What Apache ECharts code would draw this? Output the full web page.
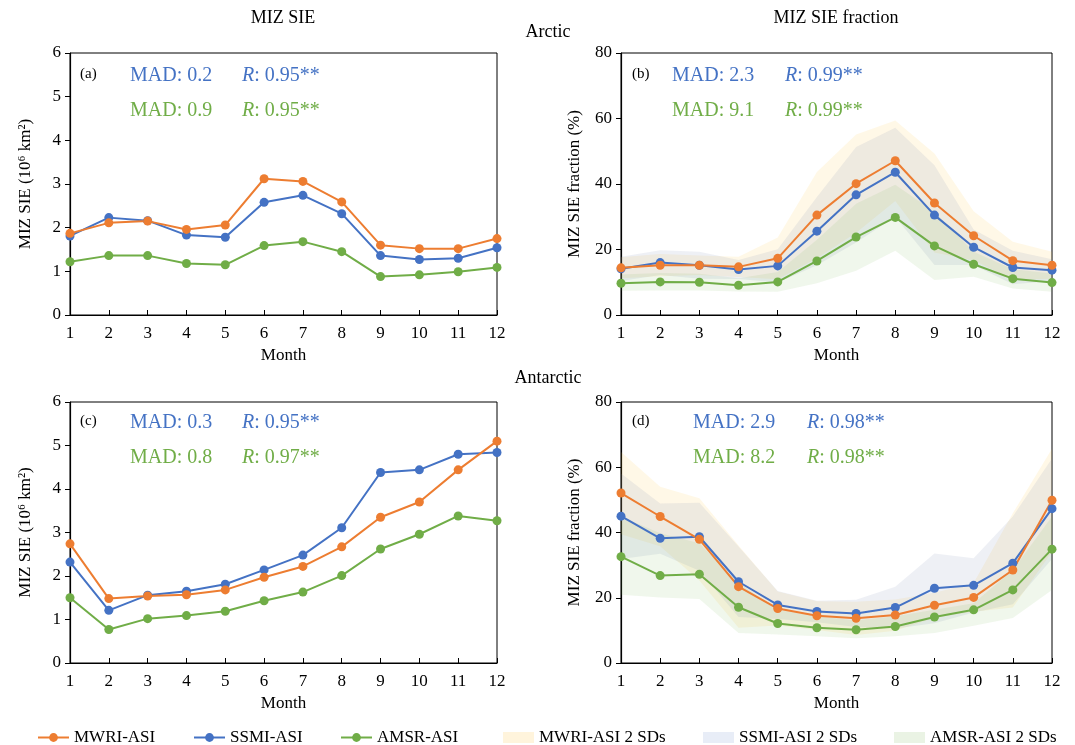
<!DOCTYPE html>
<html>
<head>
<meta charset="utf-8">
<script src="https://cdn.jsdelivr.net/npm/echarts@6/dist/echarts.min.js"></script>
<style>
  html, body { margin: 0; padding: 0; background: #fff; }
  #chart { width: 1075px; height: 745px; }
</style>
</head>
<body>
<div id="chart"></div>
<script>
const months = ['1', '2', '3', '4', '5', '6', '7', '8', '9', '10', '11', '12'];

// (a) Arctic MIZ SIE (10^6 km2)
const arcSieMwri = [1.87, 2.11, 2.15, 1.96, 2.06, 3.12, 3.06, 2.59, 1.60, 1.52, 1.52, 1.75];
const arcSieSsmi = [1.81, 2.23, 2.16, 1.83, 1.78, 2.58, 2.74, 2.32, 1.36, 1.27, 1.30, 1.54];
const arcSieAmsr = [1.22, 1.36, 1.36, 1.18, 1.15, 1.59, 1.68, 1.45, 0.88, 0.92, 0.99, 1.09];

// (b) Arctic MIZ SIE fraction (%)
const arcFracMwri = [14.4, 15.2, 15.2, 14.7, 17.3, 30.5, 40.1, 47.1, 34.2, 24.2, 16.6, 15.2];
const arcFracSsmi = [14.1, 16.0, 15.2, 13.9, 15.0, 25.6, 36.7, 43.6, 30.5, 20.7, 14.5, 13.7];
const arcFracAmsr = [9.7, 10.1, 10.0, 9.1, 10.1, 16.5, 23.8, 29.8, 21.1, 15.5, 11.1, 9.9];
const arcMwriLow = [11.2, 11.8, 12.2, 11.6, 10.9, 17.3, 25.1, 34.8, 19.1, 16.7, 10.8, 11.1];
const arcMwriUp = [17.6, 18.6, 18.2, 17.8, 23.7, 43.7, 55.1, 59.4, 49.3, 31.7, 22.4, 19.3];
const arcSsmiLow = [10.4, 12.2, 11.1, 11.0, 9.9, 15.2, 22.1, 30.0, 15.3, 15.3, 9.4, 10.4];
const arcSsmiUp = [17.8, 19.8, 19.3, 16.8, 20.1, 36.0, 51.3, 57.2, 45.7, 26.1, 19.6, 17.0];
const arcAmsrLow = [7.4, 7.5, 7.5, 7.2, 7.1, 9.7, 13.5, 19.6, 10.7, 11.7, 8.1, 7.1];
const arcAmsrUp = [12.4, 12.8, 12.6, 11.2, 13.1, 23.0, 34.0, 39.8, 31.5, 19.3, 14.0, 12.7];

// (c) Antarctic MIZ SIE (10^6 km2)
const antSieMwri = [2.74, 1.48, 1.54, 1.57, 1.68, 1.97, 2.22, 2.67, 3.35, 3.70, 4.44, 5.10];
const antSieSsmi = [2.32, 1.21, 1.56, 1.65, 1.81, 2.14, 2.48, 3.11, 4.38, 4.44, 4.80, 4.84];
const antSieAmsr = [1.50, 0.77, 1.02, 1.09, 1.19, 1.43, 1.63, 2.01, 2.62, 2.96, 3.38, 3.27];

// (d) Antarctic MIZ SIE fraction (%)
const antFracMwri = [52.1, 44.9, 37.9, 23.4, 16.7, 14.5, 13.7, 14.7, 17.7, 20.1, 28.5, 49.9];
const antFracSsmi = [45.0, 38.2, 38.7, 24.9, 17.8, 15.8, 15.2, 17.0, 22.9, 23.8, 30.6, 47.3];
const antFracAmsr = [32.6, 26.8, 27.2, 17.1, 12.1, 10.8, 10.2, 11.2, 14.1, 16.3, 22.4, 34.9];
const antMwriLow = [39.5, 35.8, 25.3, 10.8, 11.5, 10.1, 8.6, 9.9, 13.9, 15.7, 17.0, 34.1];
const antMwriUp = [64.7, 54.0, 50.5, 36.0, 21.9, 18.9, 18.8, 19.5, 21.5, 24.5, 45.9, 65.7];
const antSsmiLow = [31.9, 33.5, 28.3, 14.1, 13.5, 12.5, 11.0, 10.6, 12.2, 15.5, 18.0, 31.9];
const antSsmiUp = [58.1, 48.9, 49.1, 35.7, 22.1, 19.1, 19.4, 23.4, 33.6, 32.1, 44.9, 62.7];
const antAmsrLow = [20.9, 20.1, 19.6, 9.2, 8.7, 8.2, 7.6, 8.2, 9.2, 11.4, 13.8, 22.4];
const antAmsrUp = [44.9, 39.8, 36.7, 24.5, 16.3, 14.3, 13.0, 14.3, 16.3, 18.3, 28.5, 44.9];

// MAD / R annotations per panel: [blue row, green row]
const statsA = [['MAD: 0.2', '0.95**'], ['MAD: 0.9', '0.95**']];
const statsB = [['MAD: 2.3', '0.99**'], ['MAD: 9.1', '0.99**']];
const statsC = [['MAD: 0.3', '0.95**'], ['MAD: 0.8', '0.97**']];
const statsD = [['MAD: 2.9', '0.98**'], ['MAD: 8.2', '0.98**']];

const ORANGE = '#ED7D31', BLUE = '#4472C4', GREEN = '#70AD47';
const FONT = '"Liberation Serif", "Times New Roman", serif';
const BAND_MWRI = 'rgba(255, 200, 60, 0.12)';
const BAND_SSMI = 'rgba(125, 140, 180, 0.13)';
const BAND_AMSR = 'rgba(112, 173, 71, 0.10)';

const grids = [
    { left: 70, top: 53, width: 427, height: 262 },
    { left: 621, top: 53, width: 431, height: 262 },
    { left: 70, top: 402, width: 427, height: 261 },
    { left: 621, top: 402, width: 431, height: 261 }
].map(g => Object.assign(g, { show: true, borderColor: '#000', borderWidth: 1, containLabel: false }));

const xAxes = grids.map((g, i) => ({
    type: 'category', gridIndex: i, data: months, boundaryGap: false,
    name: 'Month', nameLocation: 'middle', nameGap: 32,
    nameTextStyle: { fontFamily: FONT, fontSize: 17, color: '#000' },
    axisLine: { lineStyle: { color: '#000', width: 1.2 } },
    axisTick: { inside: true, length: 5, lineStyle: { color: '#000' } },
    axisLabel: { fontFamily: FONT, fontSize: 17, color: '#000', margin: 10 },
    splitLine: { show: false }
}));

const sieName = 'MIZ SIE (10\u2076 km\u00b2)';
const fracName = 'MIZ SIE fraction (%)';
const yAxes = grids.map((g, i) => {
    const frac = i % 2 === 1;
    return {
        type: 'value', gridIndex: i, min: 0, max: frac ? 80 : 6, interval: frac ? 20 : 1,
        name: frac ? fracName : sieName, nameLocation: 'middle', nameGap: frac ? 38 : 36, nameRotate: 90,
        nameTextStyle: { fontFamily: FONT, fontSize: 17, color: '#000' },
        axisLine: { show: true, lineStyle: { color: '#000', width: 1.2 } },
        axisTick: { show: true, inside: false, length: 5, lineStyle: { color: '#000' } },
        axisLabel: { fontFamily: FONT, fontSize: 17, color: '#000', margin: 9 },
        splitLine: { show: false }
    };
});

const series = [];
const band = (i, key, name, low, up, color) => {
    series.push({
        type: 'line', name: 'low-' + key, xAxisIndex: i, yAxisIndex: i, stack: key,
        data: low, symbol: 'none', lineStyle: { opacity: 0 }, silent: true
    });
    series.push({
        type: 'line', name: name, xAxisIndex: i, yAxisIndex: i, stack: key,
        data: up.map((v, k) => +(v - low[k]).toFixed(2)), symbol: 'none',
        lineStyle: { opacity: 0 }, areaStyle: { color: color, opacity: 1 }, silent: true
    });
};
const line = (i, name, data, color) => {
    series.push({
        type: 'line', name: name, xAxisIndex: i, yAxisIndex: i, data: data,
        symbol: 'circle', symbolSize: 9, itemStyle: { color: color },
        lineStyle: { color: color, width: 2 }, z: 5
    });
};

band(1, 'b-mwri', 'MWRI-ASI 2 SDs', arcMwriLow, arcMwriUp, BAND_MWRI);
band(1, 'b-ssmi', 'SSMI-ASI 2 SDs', arcSsmiLow, arcSsmiUp, BAND_SSMI);
band(1, 'b-amsr', 'AMSR-ASI 2 SDs', arcAmsrLow, arcAmsrUp, BAND_AMSR);
band(3, 'd-mwri', 'MWRI-ASI 2 SDs', antMwriLow, antMwriUp, BAND_MWRI);
band(3, 'd-ssmi', 'SSMI-ASI 2 SDs', antSsmiLow, antSsmiUp, BAND_SSMI);
band(3, 'd-amsr', 'AMSR-ASI 2 SDs', antAmsrLow, antAmsrUp, BAND_AMSR);

[[arcSieMwri, arcSieSsmi, arcSieAmsr], [arcFracMwri, arcFracSsmi, arcFracAmsr],
 [antSieMwri, antSieSsmi, antSieAmsr], [antFracMwri, antFracSsmi, antFracAmsr]].forEach((set, i) => {
    line(i, 'AMSR-ASI', set[2], GREEN);
    line(i, 'SSMI-ASI', set[1], BLUE);
    line(i, 'MWRI-ASI', set[0], ORANGE);
});

// text annotations
const rtxt = (x, y, val, color) => ({
    type: 'text', x: x, y: y, z: 10,
    style: {
        text: '{i|R}: ' + val, fontFamily: FONT, fontSize: 20, fill: color, verticalAlign: 'middle',
        rich: { i: { fontStyle: 'italic', fontFamily: FONT, fontSize: 20, fill: color } }
    }
});
const graphic = [];
const centered = (cx, cy, text, size) => graphic.push({
    type: 'text', x: cx, y: cy, z: 10,
    style: { text: text, fontFamily: FONT, fontSize: size, fill: '#000', align: 'center', verticalAlign: 'middle' }
});
centered(283, 18, 'MIZ SIE', 18);
centered(836, 18, 'MIZ SIE fraction', 18);
centered(548, 32, 'Arctic', 18);
centered(548, 378, 'Antarctic', 18);

const panels = [
    { tag: '(a)', x0: 80, xm: 130, xr: 242, y: 76, stats: statsA },
    { tag: '(b)', x0: 632, xm: 672, xr: 785, y: 76, stats: statsB },
    { tag: '(c)', x0: 80, xm: 130, xr: 242, y: 423, stats: statsC },
    { tag: '(d)', x0: 632, xm: 693, xr: 807, y: 423, stats: statsD }
];
panels.forEach(p => {
    graphic.push({ type: 'text', x: p.x0, y: p.y - 2, z: 10,
        style: { text: p.tag, fontFamily: FONT, fontSize: 15, fill: '#000', verticalAlign: 'middle' } });
    [[BLUE, 0], [GREEN, 35]].forEach(([c, dy], r) => {
        graphic.push({ type: 'text', x: p.xm, y: p.y + dy, z: 10,
            style: { text: p.stats[r][0], fontFamily: FONT, fontSize: 20, fill: c, verticalAlign: 'middle' } });
        graphic.push(rtxt(p.xr, p.y + dy, p.stats[r][1], c));
    });
});

// legends, one per item so they sit where the reference puts them
const legendItems = [
    { left: 37, item: { name: 'MWRI-ASI' } },
    { left: 193, item: { name: 'SSMI-ASI' } },
    { left: 340, item: { name: 'AMSR-ASI' } },
    { left: 503, item: { name: 'MWRI-ASI 2 SDs', icon: 'rect', itemStyle: { color: '#FFF4DC' } } },
    { left: 703, item: { name: 'SSMI-ASI 2 SDs', icon: 'rect', itemStyle: { color: '#E8EDF7' } } },
    { left: 894, item: { name: 'AMSR-ASI 2 SDs', icon: 'rect', itemStyle: { color: '#EAF3E4' } } }
];
const legend = legendItems.map(l => ({
    left: l.left, top: 729, padding: 0, data: [l.item], selectedMode: false,
    itemWidth: 31, itemHeight: 11, itemGap: 4,
    textStyle: { fontFamily: FONT, fontSize: 17, color: '#000' }
}));

const chart = echarts.init(document.getElementById('chart'), null, { renderer: 'canvas' });
chart.setOption({
    animation: false,
    backgroundColor: '#fff',
    grid: grids,
    xAxis: xAxes,
    yAxis: yAxes,
    legend: legend,
    graphic: graphic,
    series: series
});
</script>
</body>
</html>
